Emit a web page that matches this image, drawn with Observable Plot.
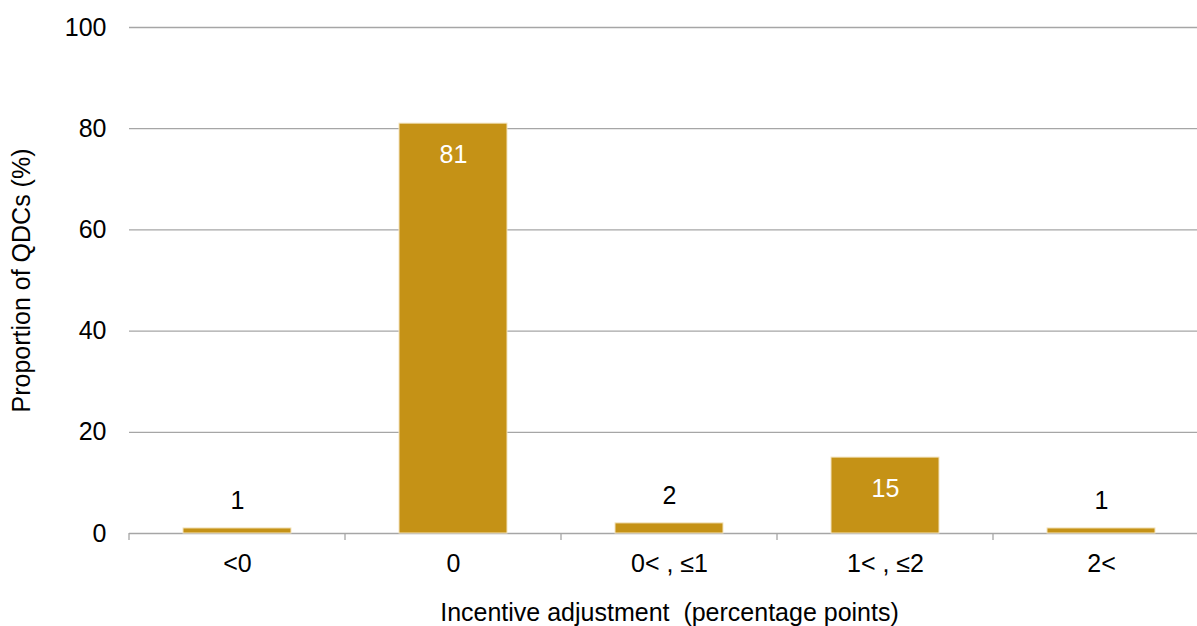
<!DOCTYPE html>
<html>
<head>
<meta charset="utf-8">
<script src="https://cdn.jsdelivr.net/npm/d3@7"></script>
<script src="https://cdn.jsdelivr.net/npm/@observablehq/plot@0.6"></script>
<style>
  html, body { margin: 0; padding: 0; background: #fff; overflow: hidden; }
  #chart svg { display: block; font-family: "Liberation Sans", Arial, sans-serif; }
</style>
</head>
<body>
<div id="chart"></div>
<script>
// Incentive adjustment bands and the share of QDCs falling in each
const categories = ["<0", "0", "0< , \u22641", "1< , \u22642", "2<"];
const shares = [1, 81, 2, 15, 1];
const yTicks = [0, 20, 40, 60, 80, 100];

const data = categories.map((c, i) => ({category: c, share: shares[i]}));
const barColor = "#c59216";
const gridColor = "#a6a6a6";
const insideThreshold = 10;
const fs = 25;

// Small tick marks at the borders between categories, below the baseline
const boundaryTicks = (index, {x, y}) => {
  const step = x.step();
  const bw = x.bandwidth();
  const gap = (step - bw) / 2;
  const edges = categories.map(c => x(c) - gap);
  edges.push(x(categories[categories.length - 1]) + bw + gap);
  const g = d3.create("svg:g")
    .attr("stroke", gridColor)
    .attr("stroke-width", 1.3);
  const y0 = y(0);
  for (const e of edges) {
    g.append("line")
      .attr("x1", e).attr("x2", e)
      .attr("y1", y0).attr("y2", y0 + 7);
  }
  return g.node();
};

const chart = Plot.plot({
  width: 1197,
  height: 626,
  marginTop: 27,
  marginBottom: 93,
  marginLeft: 129,
  marginRight: -12,
  style: {fontFamily: "'Liberation Sans', Arial, sans-serif", fontSize: fs + "px", color: "#000", background: "#fff"},
  x: {domain: categories, paddingInner: 0.5, paddingOuter: 0.25},
  y: {domain: [0, 100]},
  marks: [
    Plot.ruleY(yTicks, {stroke: gridColor, strokeWidth: 1.3, strokeOpacity: 1}),
    Plot.axisY({
      ticks: yTicks, tickSize: 0, tickPadding: 23, fontSize: fs,
      label: "Proportion of QDCs (%)", labelAnchor: "center", labelArrow: "none", labelOffset: 117
    }),
    Plot.axisX({
      tickSize: 0, tickPadding: 21, fontSize: fs,
      label: "Incentive adjustment\u00a0 (percentage points)", labelAnchor: "center", labelArrow: "none", labelOffset: 87
    }),
    Plot.barY(data, {x: "category", y: "share", fill: barColor, stroke: "#f3e4bf", strokeWidth: 1}),
    boundaryTicks,
    Plot.text(data.filter(d => d.share >= insideThreshold), {
      x: "category", y: "share", text: d => String(d.share), fill: "#fff", fontSize: fs, dy: 31
    }),
    Plot.text(data.filter(d => d.share < insideThreshold), {
      x: "category", y: "share", text: d => String(d.share), fill: "#000", fontSize: fs, dy: -27
    })
  ]
});

document.getElementById("chart").appendChild(chart);
</script>
</body>
</html>
